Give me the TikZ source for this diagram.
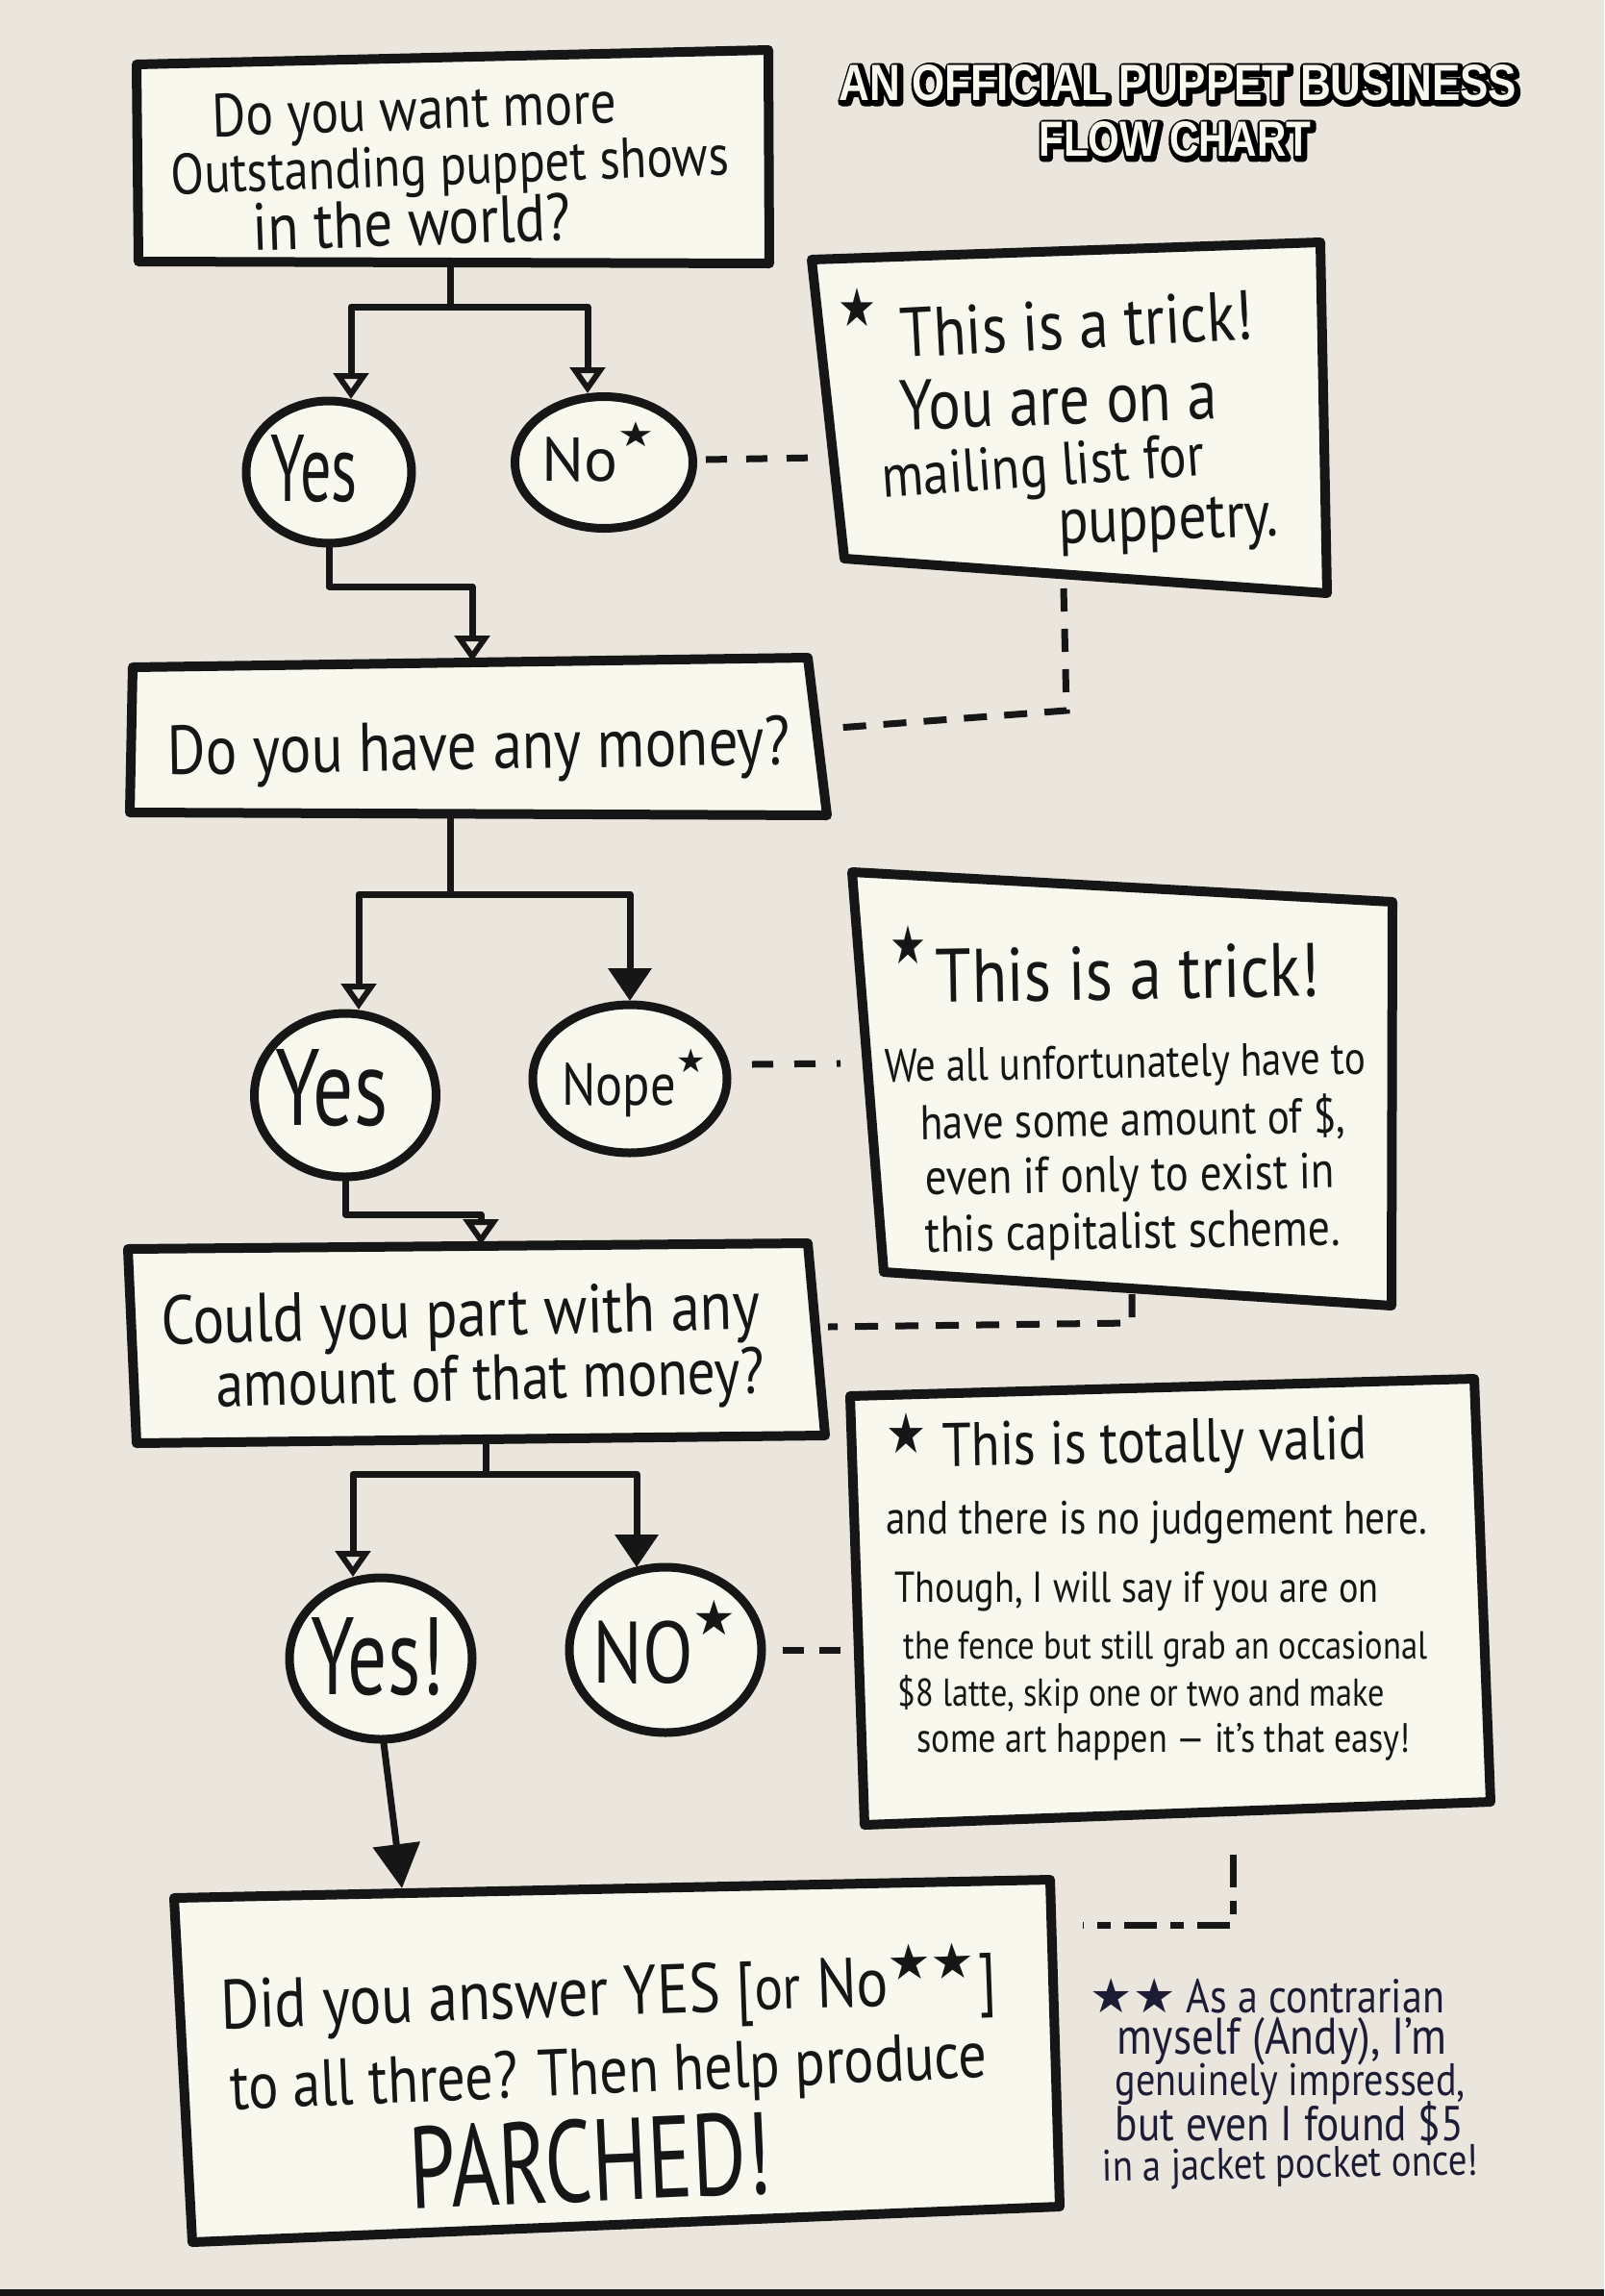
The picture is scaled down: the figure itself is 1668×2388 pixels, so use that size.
\documentclass[tikz,border=0pt]{standalone}
\usepackage{fontspec}
\usepackage{graphicx}
\setmainfont{PT Sans}[FakeStretch=0.85]
\newfontfamily\sym{DejaVu Sans}
\newfontfamily\titlefont{Liberation Sans}[FakeStretch=0.82]
\newfontfamily\titleout{Liberation Sans}[FakeStretch=0.82, FakeBold=16]
\usetikzlibrary{arrows.meta,shapes.geometric}
\definecolor{bg}{RGB}{234,230,221}
\definecolor{paper}{RGB}{249,248,238}
\definecolor{ink}{RGB}{22,22,22}
\definecolor{navy}{RGB}{28,28,52}
\newcommand{\fl}[2]{\resizebox{#1pt}{!}{#2}}
\newcommand{\fb}[3]{\resizebox{#1pt}{#2pt}{#3}}
\newcommand{\st}{{\sym ★}}
\newcommand{\sst}{\raisebox{0.55em}{\scalebox{0.55}{\sym ★}}}
\begin{document}
\begin{tikzpicture}[x=1pt,y=-1pt,
  box/.style={draw=ink, fill=paper, line width=10pt, line join=round},
  conn/.style={draw=ink, line width=7pt, line join=round},
  arr/.style={conn, -{Triangle[open, length=27pt, width=36pt, line width=6pt]}},
  arrf/.style={conn, -{Triangle[length=34pt, width=44pt]}},
  arrb/.style={conn, -{Triangle[length=46pt, width=48pt]}},
  dsh/.style={draw=ink, line width=7pt, dash pattern=on 24pt off 18pt},
  circl/.style={draw=ink, fill=paper, line width=9pt},
  tx/.style={inner sep=0, outer sep=0, text=ink},
  fn/.style={inner sep=0, outer sep=0, text=navy},
  outl/.style={inner sep=0, outer sep=0, text=black, line join=round, line cap=round},
]
\useasboundingbox (0,0) rectangle (1668,2388);
\fill[bg] (0,0) rectangle (1668,2388);
\fill[ink] (0,2381) rectangle (1668,2388);

% ---------- boxes ----------
\draw[box] (142,67) -- (799,52) -- (800,274) -- (144,272) -- cycle;
\draw[box] (138,694) -- (840,684) -- (860,848) -- (135,845) -- cycle;
\draw[box] (133,1299) -- (840,1293) -- (858,1493) -- (142,1501) -- cycle;
\draw[box] (181,1974) -- (1092,1955) -- (1102,2295) -- (200,2332) -- cycle;
\draw[box] (844,270) -- (1373,252) -- (1380,617) -- (878,581) -- cycle;
\draw[box] (886,907) -- (1448,938) -- (1447,1358) -- (919,1323) -- cycle;
\draw[box] (884,1452) -- (1533,1434) -- (1550,1874) -- (899,1898) -- cycle;

% ---------- circles ----------
\draw[circl] (342,491) ellipse [x radius=86, y radius=74];
\draw[circl] (628,481) ellipse [x radius=92.5, y radius=68.5];
\draw[circl] (359,1139) ellipse [x radius=94.5, y radius=85];
\draw[circl] (655,1122) ellipse [x radius=101, y radius=77];
\draw[circl] (396,1725) ellipse [x radius=95, y radius=84];
\draw[circl] (692,1716) ellipse [x radius=100, y radius=86];
% border points of the circles
\coordinate (yes1n) at (365,415);  \coordinate (yes1s) at (342,569);
\coordinate (no1n) at (611,409);   \coordinate (no1e) at (734,478);
\coordinate (yes2n) at (373,1050); \coordinate (yes2s) at (359,1228);
\coordinate (nopen) at (655,1041); \coordinate (nopee) at (782,1107);
\coordinate (yes3n) at (367,1640); \coordinate (yes3s) at (399,1813);
\coordinate (no3n) at (662,1630);  \coordinate (no3e) at (814,1716);

% ---------- connector anchors ----------
\coordinate (b1b) at (468,272);
\coordinate (b2t) at (491,688);
\coordinate (b2b) at (468,846);
\coordinate (b3t) at (500,1295);
\coordinate (b3b) at (505,1497);
\coordinate (b4t) at (418,1964);

\draw[conn] (b1b) -- (468,319) coordinate (s1);
\draw[arr] (s1) -| (yes1n);
\draw[arr] (s1) -| (no1n);
\draw[arr] (yes1s) -- ++(0,41) -| (b2t);
\draw[conn] (b2b) -- (468,930) coordinate (s2);
\draw[arr] (s2) -| (yes2n);
\draw[arrf] (s2) -| (nopen);
\draw[arr] (yes2s) -- ++(0,35) -| (b3t);
\draw[conn] (b3b) -- (505,1533) coordinate (s3);
\draw[arr] (s3) -| (yes3n);
\draw[arrf] (s3) -| (no3n);
\draw[arrb] (yes3s) -- (b4t);

% ---------- dashed links ----------
\coordinate (n1l) at (851,476);
\coordinate (n1b) at (1106,612); \coordinate (b2r) at (871,757);
\coordinate (n2l) at (874,1106);
\coordinate (n2b) at (1177,1346); \coordinate (b3r) at (861,1380);
\coordinate (n3l) at (888,1716);
\coordinate (d6s) at (1282,1929); \coordinate (b4r) at (1126,2002);
\draw[dsh, dash pattern=on 22pt off 20pt] (no1e) -- (n1l);
\draw[dsh] (n1b) -- (1109,739) -- (b2r);
\draw[dsh, dash pattern=on 22pt off 22pt] (nopee) -- (n2l);
\draw[dsh] (n2b) -- (1177,1376) -- (b3r);
\draw[dsh, dash pattern=on 22pt off 16pt] (no3e) -- (n3l);
\draw[dsh, dash pattern=on 34pt off 14pt on 14pt off 14pt] (d6s) -- (1282,2002) -- (b4r);

% ---------- title (white letters with a black outline) ----------
\node[outl] (title1o) at (1226.5,88) {\titleout\bfseries\fb{704}{37}{AN OFFICIAL PUPPET BUSINESS}};
\node[outl] (title2o) at (1223.5,146.5) {\titleout\bfseries\fb{283}{36}{FLOW CHART}};
\node[tx, text=paper] (title1) at (1225,86.5) {\titlefont\bfseries\fb{704}{37}{AN OFFICIAL PUPPET BUSINESS}};
\node[tx, text=paper] (title2) at (1222,145) {\titlefont\bfseries\fb{283}{36}{FLOW CHART}};

% ---------- box texts ----------
\node[tx, rotate=2] (q1a) at (431,119) {\fl{420}{Do you want more}};
\node[tx, rotate=2] (q1b) at (468,177) {\fl{580}{Outstanding puppet shows}};
\node[tx, rotate=2] (q1c) at (428,231) {\fl{330}{in the world?}};

\node[tx, rotate=1] (q2a) at (498,782) {\fl{647}{Do you have any money?}};

\node[tx, rotate=1.5] (q3a) at (479,1372) {\fl{622}{Could you part with any}};
\node[tx, rotate=1.5] (q3b) at (510,1439) {\fl{570}{amount of that money?}};

\node[tx, rotate=2] (q4a) at (633,2073) {\fl{808}{Did you answer YES [{\small or} No\textsuperscript{\sym ★★}]}};
\node[tx, rotate=2.5] (q4b) at (633,2160) {\fl{788}{to all three? Then help produce}};
\node[tx, rotate=2.5] (q4c) at (614,2247) {\fb{377}{86}{PARCHED!}};

% ---------- circle labels ----------
\node[tx] (lyes1) at (327,488) {\fb{90}{69}{Yes}};
\node[tx] (lno1) at (622,470) {\fb{117}{61}{No\sst}};
\node[tx] (lyes2) at (345,1132) {\fb{117}{79}{Yes}};
\node[tx] (lnope) at (659,1126) {\fl{149}{Nope\sst}};
\node[tx] (lyes3) at (393,1723) {\fb{139}{80}{Yes!}};
\node[tx] (lno3) at (691,1708) {\fb{149}{86}{NO\sst}};

% ---------- note 1 ----------
\node[tx] (n1s) at (891,320) {\fb{40}{40}{\st}};
\node[tx, rotate=3] (n1a) at (1120,337) {\fl{367}{This is a trick!}};
\node[tx, rotate=2] (n1b) at (1101,416) {\fl{330}{You are on a}};
\node[tx, rotate=4] (n1c) at (1085,490) {\fl{336}{mailing list for}};
\node[tx, rotate=2] (n1d) at (1215,547) {\fl{229}{puppetry.}};

% ---------- note 2 ----------
\node[tx] (n2s) at (944,983) {\fb{38}{40}{\st}};
\node[tx, rotate=1] (n2a) at (1173,1012) {\fl{399}{This is a trick!}};
\node[tx, rotate=1] (n2b) at (1170,1109) {\fl{500}{We all unfortunately have to}};
\node[tx, rotate=1] (n2c) at (1178,1165) {\fl{442}{have some amount of \$,}};
\node[tx, rotate=1] (n2d) at (1175,1226) {\fl{425}{even if only to exist in}};
\node[tx, rotate=1] (n2e) at (1178,1285) {\fl{431}{this capitalist scheme.}};

% ---------- note 3 ----------
\node[tx] (n3s) at (942,1491) {\fb{42}{42}{\st}};
\node[tx, rotate=1] (n3a) at (1201,1505) {\fl{442}{This is totally valid}};
\node[tx] (n3b) at (1203,1583) {\fl{563}{and there is no judgement here.}};
\node[tx] (n3c) at (1182,1655) {\fl{503}{Though, I will say if you are on}};
\node[tx] (n3d) at (1212,1715) {\fl{545}{the fence but still grab an occasional}};
\node[tx] (n3e) at (1187,1762) {\fl{506}{\$8 latte, skip one or two and make}};
\node[tx] (n3f) at (1210,1812) {\fl{513}{some art happen — it’s that easy!}};

% ---------- footnote ----------
\node[fn] (f1) at (1318,2076) {\fl{368}{{\sym ★★} As a contrarian}};
\node[fn] (f2) at (1333,2123) {\fl{342}{myself (Andy), I’m}};
\node[fn] (f3) at (1342,2168) {\fl{364}{genuinely impressed,}};
\node[fn] (f4) at (1341,2209) {\fl{362}{but even I found \$5}};
\node[fn, rotate=1] (f5) at (1342,2254) {\fl{391}{in a jacket pocket once!}};
\end{tikzpicture}
\end{document}
